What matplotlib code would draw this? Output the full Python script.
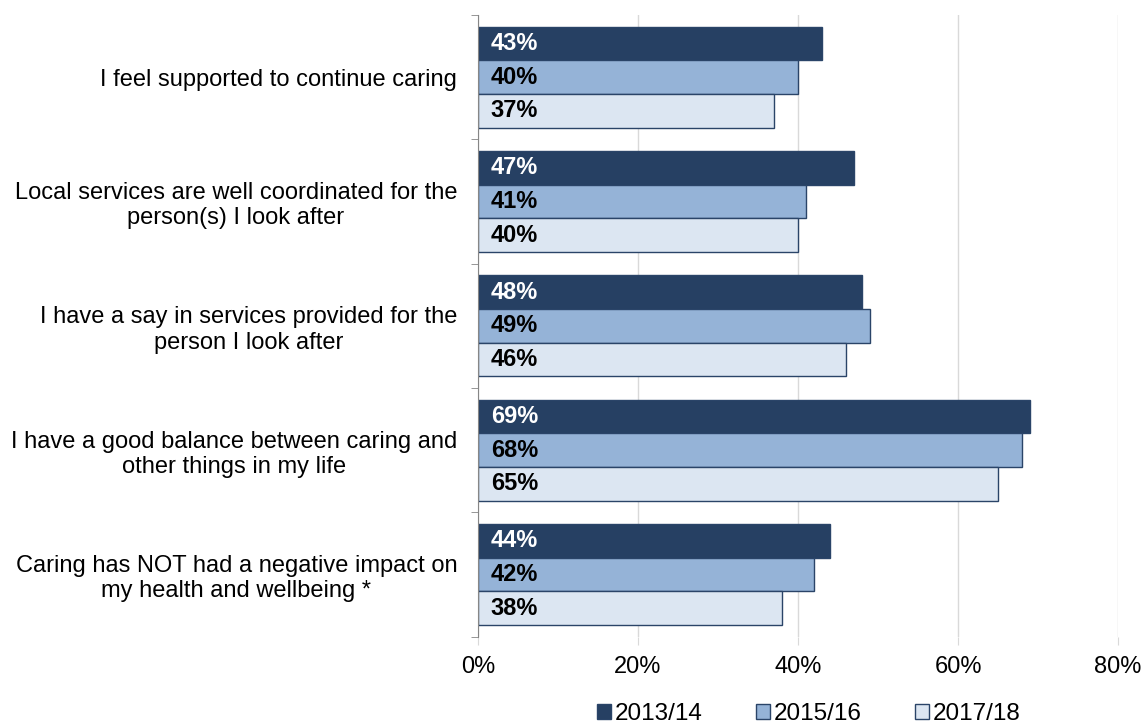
import numpy as np
import matplotlib
matplotlib.use("Agg")
import matplotlib.pyplot as plt

plt.rcParams['font.family'] = ['Liberation Sans', 'DejaVu Sans']

categories = [
    "I feel supported to continue caring",
    "Local services are well coordinated for the\nperson(s) I look after",
    "I have a say in services provided for the\nperson I look after",
    "I have a good balance between caring and\nother things in my life",
    "Caring has NOT had a negative impact on\nmy health and wellbeing *",
]
years = ["2013/14", "2015/16", "2017/18"]
vals_1314 = [43, 47, 48, 69, 44]
vals_1516 = [40, 41, 49, 68, 42]
vals_1718 = [37, 40, 46, 65, 38]

colors = ["#264063", "#95B3D7", "#DCE6F2"]
text_colors = ["white", "black", "black"]
edge = "#2A4468"
fs = 17


def main():
    W, H = 1145, 726
    fig = plt.figure(figsize=(W / 100, H / 100), dpi=100)
    ax = fig.add_axes([478 / W, (H - 636.7) / H, (1118 - 478) / W, (636.7 - 15) / H])

    y = np.arange(len(categories))
    h = 0.2715
    series = [vals_1314, vals_1516, vals_1718]
    handles = []
    for i, vals in enumerate(series):
        pos = y + (i - 1) * h
        bars = ax.barh(pos, vals, height=h, color=colors[i], edgecolor=edge,
                       linewidth=1.0, label=years[i], zorder=3)
        handles.append(bars)
        for p, v in zip(pos, vals):
            ax.text(1.6, p, f"{v}%", va="center", ha="left", fontsize=fs,
                    fontweight="bold", color=text_colors[i], zorder=4)

    ax.set_xlim(0, 80)
    ax.set_ylim(len(categories) - 0.5, -0.5)
    ax.set_xticks([0, 20, 40, 60, 80])
    ax.set_xticklabels(["0%", "20%", "40%", "60%", "80%"], fontsize=fs)
    ax.xaxis.grid(True, color="#D9D9D9", linewidth=1.0, zorder=0)
    ax.tick_params(axis="x", length=6, color="#D9D9D9", pad=8)

    ax.set_yticks(y)
    ax.set_yticklabels(categories, fontsize=fs, multialignment="center")
    ax.set_yticks(np.arange(len(categories) + 1) - 0.5, minor=True)
    ax.tick_params(axis="y", which="major", length=0, pad=15)
    ax.tick_params(axis="y", which="minor", length=5, color="#868686")

    for s in ["top", "right", "bottom"]:
        ax.spines[s].set_visible(False)
    ax.spines["left"].set_color("#868686")
    ax.spines["left"].set_zorder(5)

    fig.legend(handles=handles, labels=years, loc="center",
               bbox_to_anchor=(809 / W, 1 - 714 / H), ncol=3, frameon=False,
               fontsize=fs + 0.5, handlelength=0.58, handleheight=0.58,
               handletextpad=0.15, columnspacing=2.2)

    fig.savefig("out.png", dpi=100)


if __name__ == "__main__":
    main()
